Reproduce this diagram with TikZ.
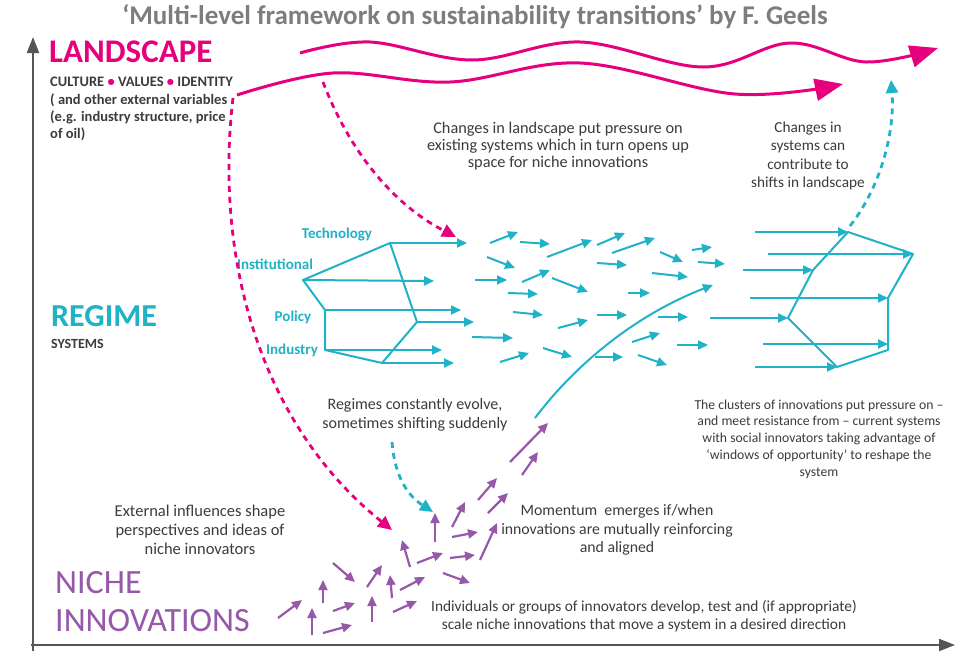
\documentclass[tikz,border=0pt]{standalone}
\usepackage{fontspec}
\setmainfont{Carlito}
\usetikzlibrary{arrows.meta}
\definecolor{mag}{RGB}{230,0,126}
\definecolor{tealc}{RGB}{32,178,198}
\definecolor{purp}{RGB}{150,88,168}
\definecolor{titlegray}{RGB}{125,125,125}
\definecolor{txt}{RGB}{60,60,60}
\definecolor{axisgray}{RGB}{85,85,85}
\begin{document}
\begin{tikzpicture}[x=1pt,y=-1pt,
  ta/.style={draw=tealc, line width=2pt, -{Triangle[length=10pt,width=9pt]}},
  tl/.style={draw=tealc, line width=2pt, line join=round},
  pa/.style={draw=purp, line width=2.2pt, -{Triangle[length=10pt,width=9pt]}},
  wave/.style={draw=mag, line width=3pt, -{Triangle[length=28pt,width=22pt]}},
  pdash/.style={draw=mag, line width=2.8pt, dash pattern=on 6pt off 5pt, -{Triangle[length=14pt,width=13pt]}},
  tdash/.style={draw=tealc, line width=2.8pt, dash pattern=on 6pt off 5pt, -{Triangle[length=13pt,width=12pt]}},
  body/.style={text=txt, align=center, inner sep=0pt},
  small/.style={text=txt, font=\bfseries\fontsize{14.5}{17}\selectfont, inner sep=0pt, anchor=base west},
  reglab/.style={text=tealc, font=\bfseries\fontsize{15}{17}\selectfont, inner sep=0pt},
  axis/.style={draw=axisgray, line width=2pt, -{Triangle[length=16pt,width=12pt]}}
]
\useasboundingbox (0,0) rectangle (955,651);
\fill[white] (0,0) rectangle (955,651);

% axes
\coordinate (origin) at (33,651);
\coordinate (ytop) at (33,37);
\coordinate (xo) at (31,645);
\coordinate (xend) at (955,645);
\draw[axis] (origin) -- (ytop);
\draw[axis] (xo) -- (xend);

% title
\node[text=titlegray, font=\bfseries\fontsize{27}{30}\selectfont, inner sep=0pt] (title) at (475,17)
  {‘Multi-level framework on sustainability transitions’ by F. Geels};

% level labels
\node[text=mag, font=\bfseries\fontsize{33}{36}\selectfont, inner sep=0pt, anchor=base west] (land) at (49,62) {LANDSCAPE};
\node[small] (cvi) at (50,86) {CULTURE {\color{mag}•} VALUES {\color{mag}•} IDENTITY};
\node[small] (ext1) at (50,104) {( and other external variables};
\node[small] (ext2) at (50,121) {(e.g. industry structure, price};
\node[small] (ext3) at (50,138) {of oil)};

\node[text=tealc, font=\bfseries\fontsize{32}{36}\selectfont, inner sep=0pt, anchor=base west] (regime) at (51,326) {REGIME};
\node[small, font=\bfseries\fontsize{14}{16}\selectfont] (systems) at (51,348) {SYSTEMS};

\node[text=purp, font=\fontsize{34}{36}\selectfont, inner sep=0pt, anchor=base west] (niche) at (55,593) {NICHE};
\node[text=purp, font=\fontsize{34}{36}\selectfont, inner sep=0pt, anchor=base west] (innov) at (55,631) {INNOVATIONS};

% landscape waves
\draw[wave] plot[smooth, tension=0.6] coordinates {(300,53) (370,42) (472,60) (580,42) (703,67) (790,43) (866,62) (938,48)};
\draw[wave] plot[smooth, tension=0.6] coordinates {(237,95) (333,73) (450,82) (580,63) (735,94) (843,84)};

% regime labels
\node[reglab] (tech) at (337,235) {Technology};
\node[reglab] (inst) at (275,264) {Institutional};
\node[reglab] (pol) at (293,317) {Policy};
\node[reglab] (ind) at (292,350) {Industry};

% left regime structure
\coordinate (A) at (303,280);
\coordinate (B) at (390,243);
\coordinate (C) at (325,310);
\coordinate (D) at (325,350);
\coordinate (E) at (382,363);
\coordinate (F) at (417,322);
\draw[tl] (B) -- (A) -- (C) -- (D) -- (E) -- (F) -- cycle;
\coordinate (Bx) at (467,243);
\coordinate (Ax) at (434,281);
\coordinate (Cx) at (461,310);
\coordinate (Fx) at (474,322);
\coordinate (Dx) at (442,350);
\coordinate (Ex) at (454,363);
\draw[ta] (B) -- (Bx);
\draw[ta] (A) -- (Ax);
\draw[ta] (C) -- (Cx);
\draw[ta] (F) -- (Fx);
\draw[ta] (D) -- (Dx);
\draw[ta] (E) -- (Ex);

% scattered regime arrows
\foreach \xa/\ya/\xb/\yb in {
 490/243/518/232, 520/242/550/244, 547/257/592/240, 597/245/625/233,
 612/253/655/238, 660/252/683/262, 692/250/712/247, 487/257/515/268,
 597/263/627/265, 698/262/725/264, 475/280/507/280, 522/282/550/270,
 552/278/588/292, 652/273/688/277, 508/293/538/294, 628/293/650/293,
 513/312/543/315, 597/315/627/315, 658/317/688/317, 558/328/588/320,
 472/337/513/338, 632/342/660/333, 677/345/708/345, 500/362/529/353,
 543/348/572/357, 595/357/623/357, 638/355/667/365}
 \draw[ta] (\xa,\ya) -- (\xb,\yb);

% right regime structure
\coordinate (P) at (848,232);
\coordinate (Q) at (913,254);
\coordinate (R) at (813,270);
\coordinate (S) at (888,298);
\coordinate (T) at (788,318);
\coordinate (U) at (888,350);
\coordinate (Um) at (888,344);
\coordinate (V) at (837,367);
\draw[tl] (P) -- (Q) -- (S) -- (U) -- (V) -- (T) -- (R) -- cycle;
\coordinate (Ps) at (755,232);
\coordinate (Qs) at (768,254);
\coordinate (Rs) at (743,270);
\coordinate (Ss) at (750,298);
\coordinate (Ts) at (710,318);
\coordinate (Us) at (763,344);
\coordinate (Vs) at (755,367);
\draw[ta] (Ps) -- (P);
\draw[ta] (Qs) -- (Q);
\draw[ta] (Rs) -- (R);
\draw[ta] (Ss) -- (S);
\draw[ta] (Ts) -- (T);
\draw[ta] (Us) -- (Um);
\draw[ta] (Vs) -- (V);

% long teal curve
\coordinate (lc0) at (535,418);
\coordinate (lc1) at (713,285);
\draw[ta] (lc0) .. controls (575,365) and (635,315) .. (lc1);

% niche arrows
\foreach \xa/\ya/\xb/\yb in {
 510/462/548/423, 522/475/538/452, 478/500/497/478, 488/513/508/493,
 452/527/465/502, 435/542/435/513, 452/537/478/532, 480/560/497/523,
 450/558/475/555, 410/567/402/540, 417/563/443/553, 443/573/470/583,
 333/563/355/582, 367/587/382/565, 392/598/390/575, 400/590/425/577,
 323/603/323/580, 333/611/355/603, 372/622/372/596, 393/612/417/601,
 278/618/302/600, 312/635/312/608, 323/633/352/625}
 \draw[pa] (\xa,\ya) -- (\xb,\yb);

% dashed influence arrows
\coordinate (pd1s) at (323,82);
\coordinate (pd1e) at (456,237);
\draw[pdash] (pd1s) .. controls (345,140) and (385,200) .. (pd1e);
\coordinate (pd2s) at (233,98);
\coordinate (pd2e) at (392,530);
\draw[pdash] (pd2s) .. controls (215,250) and (255,420) .. (pd2e);
\coordinate (td1s) at (850,226);
\coordinate (td1e) at (891,80);
\draw[tdash] (td1s) .. controls (882,185) and (895,130) .. (td1e);
\coordinate (td2s) at (392,442);
\coordinate (td2e) at (433,512);
\draw[tdash] (td2s) .. controls (395,480) and (410,497) .. (td2e);

% annotations
\node[body, font=\fontsize{16.3}{17}\selectfont] (t1) at (558,146) {Changes in landscape put pressure on\\existing systems which in turn opens up\\space for niche innovations};
\node[body, font=\fontsize{15.3}{18.5}\selectfont] (t2) at (808,156) {Changes in\\systems can\\contribute to\\shifts in landscape};
\node[body, font=\fontsize{16}{19}\selectfont] (t3) at (415,415) {Regimes constantly evolve,\\sometimes shifting suddenly};
\node[body, font=\fontsize{13.7}{16.7}\selectfont] (t4) at (819,439) {The clusters of innovations put pressure on –\\and meet resistance from – current systems\\with social innovators taking advantage of\\‘windows of opportunity’  to reshape the\\system};
\node[body, font=\fontsize{15.8}{18.5}\selectfont] (t5) at (617,530) {Momentum\ \ emerges if/when\\innovations are mutually reinforcing\\and aligned};
\node[body, font=\fontsize{16.5}{19}\selectfont] (t6) at (200,530) {External influences shape\\perspectives and ideas of\\niche innovators};
\node[body, font=\fontsize{15.4}{18}\selectfont] (t7) at (644,616) {Individuals or groups of innovators develop, test and (if appropriate)\\scale niche innovations that move a system in a desired direction};
\end{tikzpicture}
\end{document}
